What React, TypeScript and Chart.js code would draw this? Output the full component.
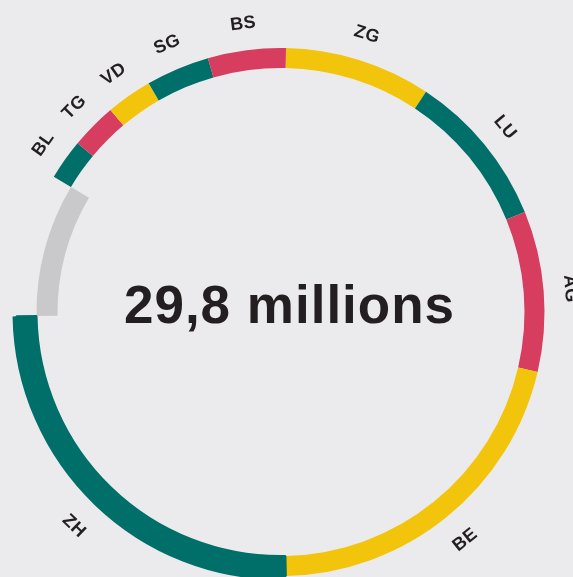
import React, { useEffect, useRef } from "react";
import { Chart, registerables } from "chart.js";

Chart.register(...registerables);

// Data (millions), clockwise from the top
const categories = ["ZG", "LU", "AG", "BE", "ZH", "Autres", "BL", "TG", "VD", "SG", "BS"];
const values = [2.67, 2.84, 2.93, 6.27, 7.47, 2.63, 0.74, 0.84, 0.84, 1.16, 1.42];
const colors = [
  "#f3c40c", "#006f69", "#d63d5f", "#f3c40c", "#006f69", "#c9c9cb",
  "#006f69", "#d63d5f", "#f3c40c", "#006f69", "#d63d5f",
];
const highlightCategory = "ZH";
const otherCategory = "Autres";
const totalLabel = "29,8 millions";

const TRANSPARENT = "rgba(0,0,0,0)";
const TEXT = "#231f20";
const BG = "#ebebed";

const labelPlugin = {
  id: "ringLabels",
  afterDraw(chart: any) {
    const ctx = chart.ctx as CanvasRenderingContext2D;
    const outerMeta = chart.getDatasetMeta(0);
    const mainMeta = chart.getDatasetMeta(1);
    ctx.save();
    ctx.fillStyle = TEXT;
    ctx.font = "bold 18px 'Liberation Sans', Arial, sans-serif";
    (ctx as any).letterSpacing = "0.5px";
    ctx.textAlign = "center";
    ctx.textBaseline = "middle";
    mainMeta.data.forEach((arc: any, i: number) => {
      const cat = categories[i];
      if (cat === otherCategory) return;
      const p = arc.getProps(["x", "y", "startAngle", "endAngle", "outerRadius"], true);
      let outer = p.outerRadius;
      if (cat === highlightCategory) {
        outer = outerMeta.data[i].getProps(["outerRadius"], true).outerRadius;
      }
      const mid = (p.startAngle + p.endAngle) / 2;
      let rot = mid + Math.PI / 2;
      rot = ((rot % (2 * Math.PI)) + 2 * Math.PI) % (2 * Math.PI);
      let flipped = false;
      if (rot > Math.PI / 2 && rot < (3 * Math.PI) / 2) {
        rot -= Math.PI;
        flipped = true;
      }
      const r = outer + (flipped ? 29.5 : 26.5);
      const px = p.x + Math.cos(mid) * r;
      const py = p.y + Math.sin(mid) * r;
      ctx.save();
      ctx.translate(px, py);
      ctx.rotate(rot);
      ctx.fillText(cat, 0, 0);
      ctx.restore();
    });
    // centre total
    const c = mainMeta.data[0].getProps(["x", "y"], true);
    ctx.font = "bold 53px 'Liberation Sans', Arial, sans-serif";
    (ctx as any).letterSpacing = "1px";
    ctx.textBaseline = "alphabetic";
    ctx.fillText(totalLabel, c.x + 9, c.y + 10.7);
    ctx.restore();
  },
};

export default function App() {
  const canvasRef = useRef<HTMLCanvasElement | null>(null);

  useEffect(() => {
    if (!canvasRef.current) return;
    const chart = new Chart(canvasRef.current, {
      type: "doughnut",
      data: {
        labels: categories,
        datasets: [
          {
            data: values,
            weight: 4,
            backgroundColor: categories.map((c, i) => (c === highlightCategory ? colors[i] : TRANSPARENT)),
            borderWidth: 0,
            hoverBorderWidth: 0,
          },
          {
            data: values,
            weight: 20,
            backgroundColor: categories.map((c, i) => (c === otherCategory ? TRANSPARENT : colors[i])),
            borderColor: colors,
            borderWidth: categories.map((c) => (c === highlightCategory ? 2 : 0)),
            hoverBorderWidth: 0,
          },
          {
            data: values,
            weight: 21,
            backgroundColor: categories.map((c, i) => (c === otherCategory ? colors[i] : TRANSPARENT)),
            borderWidth: 0,
            hoverBorderWidth: 0,
          },
        ],
      } as any,
      options: {
        animation: false,
        responsive: false,
        maintainAspectRatio: false,
        events: [],
        rotation: 1.2,
        cutout: 223,
        layout: { padding: { left: 12.5, right: 24.5, top: 44, bottom: 20 } },
        plugins: {
          legend: { display: false },
          tooltip: { enabled: false },
          title: { display: false },
        },
      } as any,
      plugins: [labelPlugin],
    });
    return () => chart.destroy();
  }, []);

  return (
    <div
      style={{
        position: "fixed",
        left: 0,
        top: 0,
        width: 573,
        height: 577,
        overflow: "hidden",
        background: BG,
      }}
    >
      <canvas ref={canvasRef} width={573} height={600} style={{ display: "block", width: 573, height: 600 }} />
    </div>
  );
}
